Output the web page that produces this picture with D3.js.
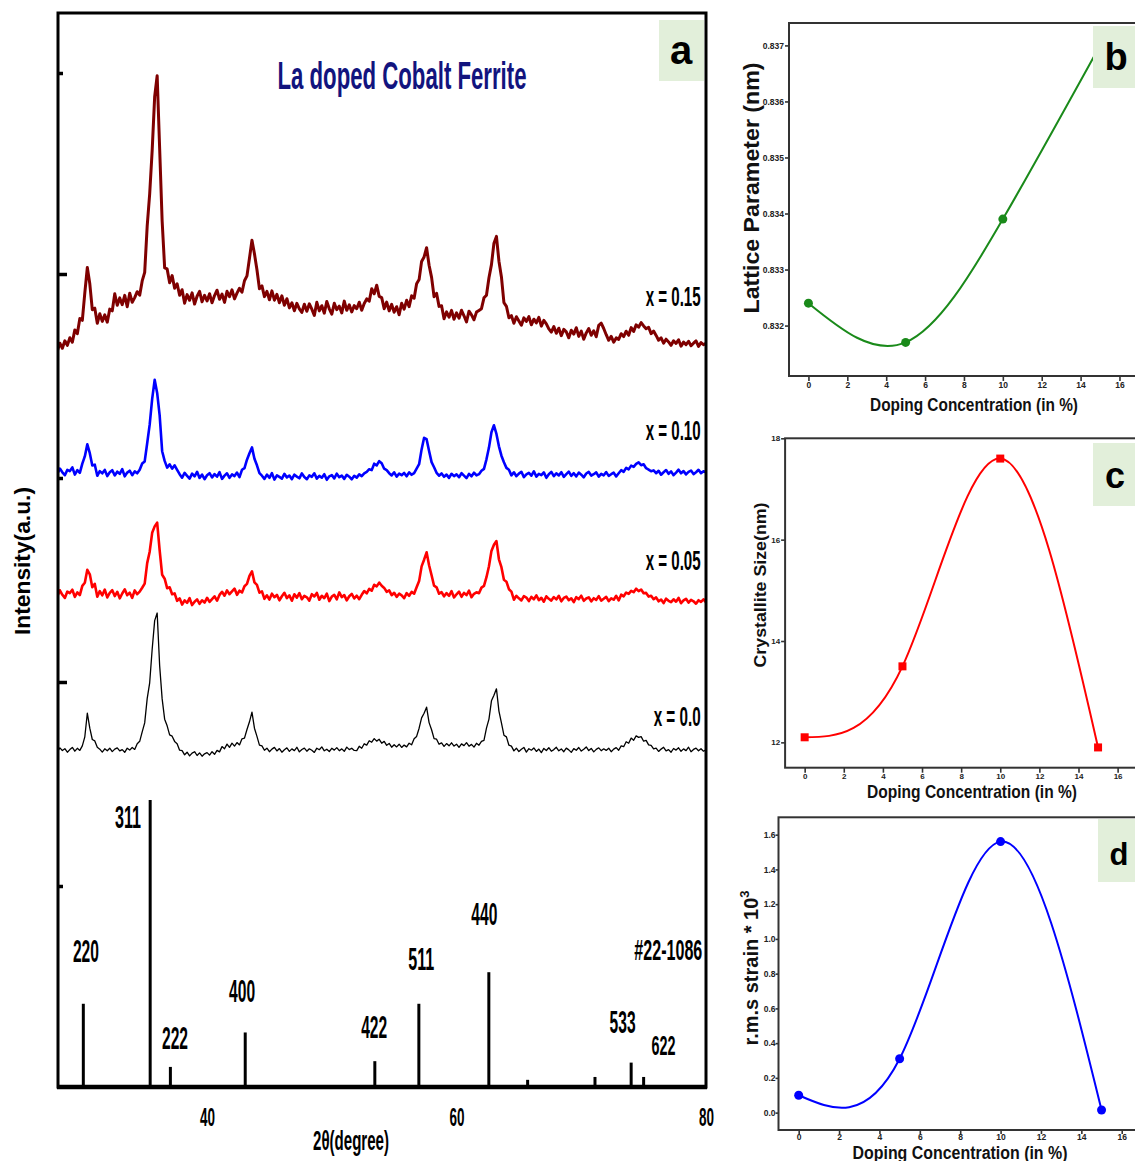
<!DOCTYPE html>
<html>
<head>
<meta charset="utf-8">
<script src="https://cdn.jsdelivr.net/npm/d3@7"></script>
<style>
  body { margin: 0; background: #fff; }
  svg { display: block; }
</style>
</head>
<body>
<div id="chart"></div>
<script>
// DATA
// ================================================================================== //

// XRD scans, 2θ from 28.0° to 80.0° in 0.2° steps (counts, before stacking offset)
const twoThetaStart = 28.0;
const twoThetaStep = 0.2;

const xrd_x000 = [
  82, 121, 95, 113, 78, 104, 126, 88, 117, 96, 141, 232, 468, 318, 205, 191, 127, 108, 79, 112,
  93, 118, 84, 109, 122, 91, 104, 77, 118, 99, 125, 106, 163, 187, 282, 371, 614, 772, 1108, 1394,
  1470, 942, 611, 408, 342, 251, 238, 186, 163, 98, 94, 52, 78, 41, 69, 83, 45, 71, 38, 62,
  74, 49, 83, 57, 96, 81, 134, 112, 159, 127, 168, 139, 174, 151, 212, 219, 305, 382, 478, 318,
  236, 149, 141, 97, 118, 83, 109, 126, 91, 114, 78, 103, 121, 86, 111, 94, 127, 81, 105, 119,
  88, 112, 97, 76, 118, 103, 131, 92, 108, 85, 117, 99, 124, 93, 111, 87, 129, 104, 118, 96,
  94, 137, 118, 162, 149, 193, 178, 214, 189, 207, 168, 186, 147, 166, 128, 153, 131, 158, 126, 149,
  131, 168, 152, 213, 236, 318, 421, 467, 528, 374, 302, 214, 208, 158, 171, 136, 164, 142, 172, 139,
  158, 127, 161, 144, 173, 138, 156, 129, 167, 148, 186, 197, 318, 409, 592, 648, 712, 489, 371, 248,
  231, 148, 139, 91, 118, 84, 107, 126, 79, 113, 98, 121, 86, 109, 74, 116, 95, 123, 88, 104,
  127, 92, 111, 83, 119, 101, 76, 114, 97, 125, 89, 108, 131, 94, 116, 81, 106, 122, 93, 112,
  96, 118, 83, 109, 124, 97, 141, 133, 182, 168, 219, 197, 241, 226, 234, 188, 196, 151, 147, 112,
  118, 86, 109, 127, 91, 104, 78, 115, 99, 122, 87, 111, 94, 128, 83, 106, 119, 92, 113, 88, 102
];

const xrd_x005 = [
  138, 197, 152, 121, 184, 169, 203, 131, 176, 149, 241, 272, 402, 357, 228, 261, 133, 189, 147, 204,
  126, 171, 198, 139, 182, 117, 165, 207, 148, 173, 121, 196, 158, 184, 223, 264, 469, 583, 772, 836,
  874, 597, 352, 313, 218, 227, 158, 166, 92, 117, 54, 96, 71, 118, 49, 83, 106, 62, 97, 74,
  122, 81, 109, 137, 93, 151, 182, 143, 196, 158, 187, 214, 152, 193, 176, 238, 261, 342, 387, 276,
  251, 173, 186, 112, 147, 104, 163, 128, 151, 97, 138, 172, 119, 146, 93, 157, 124, 169, 108, 141,
  127, 94, 158, 136, 171, 103, 142, 118, 163, 89, 134, 152, 107, 176, 128, 149, 96, 137, 161, 115,
  143, 108, 152, 189, 167, 211, 193, 252, 236, 274, 243, 221, 182, 196, 148, 172, 131, 163, 147, 118,
  169, 142, 181, 163, 228, 289, 436, 503, 577, 448, 347, 243, 227, 163, 178, 137, 169, 142, 188, 126,
  157, 184, 132, 171, 149, 193, 128, 162, 177, 168, 224, 241, 328, 437, 591, 652, 689, 507, 428, 302,
  283, 208, 184, 103, 142, 117, 96, 138, 124, 89, 131, 107, 146, 98, 122, 83, 137, 112, 94, 129,
  106, 142, 87, 121, 134, 98, 117, 79, 128, 109, 143, 92, 115, 127, 86, 118, 101, 139, 94, 112,
  131, 88, 117, 103, 142, 96, 153, 137, 174, 162, 191, 178, 213, 189, 205, 168, 171, 134, 142, 108,
  126, 87, 104, 69, 113, 92, 78, 107, 83, 121, 68, 96, 112, 74, 101, 87, 63, 98, 81, 107, 76
];

const xrd_x010 = [
  112, 164, 127, 98, 151, 139, 176, 104, 148, 121, 213, 286, 407, 318, 196, 203, 92, 138, 117, 151,
  89, 127, 148, 96, 133, 112, 158, 87, 124, 143, 98, 136, 117, 152, 214, 236, 418, 603, 862, 1052,
  921, 697, 338, 241, 174, 206, 163, 197, 152, 108, 73, 121, 92, 64, 113, 86, 132, 71, 104, 58,
  97, 118, 76, 109, 83, 128, 61, 94, 117, 72, 106, 89, 124, 78, 152, 169, 253, 318, 376, 262,
  197, 118, 93, 61, 104, 72, 118, 54, 97, 81, 63, 112, 76, 95, 58, 103, 84, 67, 116, 79,
  58, 96, 82, 117, 64, 91, 73, 108, 52, 87, 99, 66, 113, 78, 94, 61, 102, 83, 57, 92,
  74, 106, 89, 117, 132, 158, 149, 213, 196, 238, 217, 163, 148, 118, 96, 127, 84, 113, 98, 121,
  87, 126, 102, 119, 164, 208, 356, 472, 458, 341, 229, 178, 122, 93, 116, 82, 104, 71, 112, 89,
  106, 78, 118, 94, 69, 111, 87, 123, 96, 108, 142, 161, 257, 374, 528, 597, 511, 387, 293, 227,
  171, 152, 96, 127, 88, 114, 132, 79, 106, 121, 93, 137, 84, 112, 99, 126, 72, 108, 131, 89,
  117, 96, 128, 81, 109, 134, 92, 118, 86, 124, 103, 77, 115, 131, 94, 108, 126, 83, 112, 97,
  129, 91, 108, 123, 86, 117, 148, 132, 171, 156, 194, 182, 211, 226, 198, 207, 168, 154, 137, 146,
  118, 142, 103, 127, 149, 112, 136, 98, 124, 153, 117, 139, 106, 131, 144, 109, 128, 152, 119, 137, 126
];

const xrd_x015 = [
  43, 118, 67, 142, 96, 173, 128, 251, 213, 364, 347, 621, 874, 712, 453, 468, 317, 412, 336, 401,
  328, 459, 441, 612, 497, 571, 503, 596, 482, 618, 527, 574, 633, 598, 741, 826, 1289, 1612, 2047, 2584,
  2792, 2063, 1338, 872, 861, 723, 794, 668, 712, 597, 653, 518, 604, 547, 621, 509, 588, 636, 532, 597,
  541, 613, 522, 594, 648, 557, 609, 526, 637, 583, 652, 561, 619, 667, 628, 743, 791, 968, 1147, 1012,
  853, 662, 691, 584, 637, 552, 641, 548, 606, 523, 592, 497, 563, 471, 522, 443, 517, 462, 426, 508,
  437, 512, 458, 396, 527, 441, 493, 418, 536, 462, 409, 517, 453, 488, 421, 539, 447, 502, 431, 494,
  463, 528, 447, 516, 561, 538, 663, 612, 698, 587, 574, 463, 529, 441, 506, 428, 483, 402, 517, 458,
  547, 483, 592, 568, 712, 754, 936, 981, 1073, 897, 776, 583, 617, 486, 493, 362, 431, 378, 446, 357,
  421, 368, 447, 392, 331, 438, 401, 352, 429, 446, 463, 572, 598, 773, 904, 1118, 1186, 938, 781, 523,
  487, 372, 394, 318, 383, 341, 297, 372, 336, 384, 302, 358, 321, 376, 289, 347, 312, 261, 229, 284,
  217, 268, 193, 256, 231, 172, 248, 209, 273, 186, 239, 158, 221, 264, 197, 243, 182, 296, 318, 265,
  203, 147, 186, 128, 171, 156, 213, 184, 238, 197, 274, 236, 301, 278, 324, 291, 262, 277, 214, 239,
  196, 148, 172, 119, 158, 131, 97, 143, 116, 152, 88, 129, 104, 137, 92, 118, 141, 86, 124, 103, 117
];

const sampleNames = ["x = 0.0", "x = 0.05", "x = 0.10", "x = 0.15"];
const sampleOffsets = [3270, 4770, 6020, 7320];   // stacking offset of each scan
const intensityTicks = [2010, 4050, 6090, 8130, 10140];
const angleTicks = [40, 60, 80];

// JCPDS #22-1086 reference pattern
const refAngles = [30.08, 35.44, 37.06, 43.06, 53.45, 56.98, 62.59, 65.7, 71.1, 74.0, 75.0];
const refIntensity = [29, 100, 7, 19, 9, 29, 40, 2.5, 3.5, 8.5, 3.5];   // relative %
const refHkl = ["220", "311", "222", "400", "422", "511", "440", "", "", "533", "622"];
const refCard = "#22-1086";

// doping series (panels b, c, d)
const doping = [0, 5, 10, 15];
const latticeParameter = [0.8324, 0.8317, 0.8339, 0.8370];
const crystalliteSize = [12.1, 13.5, 17.6, 11.9];
const rmsStrain = [0.10, 0.31, 1.56, 0.015];
const dopingTicks = [0, 2, 4, 6, 8, 10, 12, 14, 16];
const latticeTicks = [0.832, 0.833, 0.834, 0.835, 0.836, 0.837];
const sizeTicks = [12, 14, 16, 18];
const strainTicks = [0, 0.2, 0.4, 0.6, 0.8, 1.0, 1.2, 1.4, 1.6];

// ================================================================================== //
// DATA END


const FONT = '"Liberation Sans", Arial, sans-serif';
const W = 1135, H = 1161;

const svg = d3.select("#chart")
    .append("svg")
    .attr("width", W)
    .attr("height", H)
    .attr("viewBox", [0, 0, W, H])
    .attr("font-family", FONT)
    .attr("font-weight", "bold");

// squeezed bold text (the figure's lettering is strongly condensed)
const squeezed = (g, txt, x, y, size, len, anchor) => g.append("text")
    .attr("x", x).attr("y", y)
    .attr("font-size", size)
    .attr("textLength", len)
    .attr("lengthAdjust", "spacingAndGlyphs")
    .attr("text-anchor", anchor || "middle")
    .text(txt);

const labelBox = (x, y, w, h, letter, lx, ly, size) => {
    svg.append("rect").attr("x", x).attr("y", y).attr("width", w).attr("height", h).attr("fill", "#e2efda");
    svg.append("text").attr("x", lx).attr("y", ly).attr("text-anchor", "middle")
        .attr("font-size", size).attr("fill", "#000").text(letter);
}


// Panel a : XRD patterns
// ================================================================================= //
const pa = { left: 58, right: 706, top: 13, bottom: 1087 };

const xA = d3.scaleLinear().domain([28.05, 80]).range([pa.left, pa.right]);
const yA = d3.scaleLinear().domain([0, 10740]).range([pa.bottom, pa.top]);

svg.append("clipPath").attr("id", "clipA")
    .append("rect")
    .attr("x", pa.left).attr("y", pa.top)
    .attr("width", pa.right - pa.left).attr("height", pa.bottom - pa.top);

const gA = svg.append("g");

const scans = [
    { values: xrd_x000, color: "#000000", width: 1.3 },
    { values: xrd_x005, color: "#ff0000", width: 2.6 },
    { values: xrd_x010, color: "#0000ff", width: 2.6 },
    { values: xrd_x015, color: "#7f0000", width: 3.0 },
];

const traceGroup = gA.append("g").attr("clip-path", "url(#clipA)");
scans.forEach((s, k) => {
    const line = d3.line()
        .x((d, i) => xA(twoThetaStart + i * twoThetaStep))
        .y(d => yA(d + sampleOffsets[k]));
    traceGroup.append("path")
        .datum(s.values)
        .attr("d", line)
        .attr("fill", "none")
        .attr("stroke", s.color)
        .attr("stroke-width", s.width)
        .attr("stroke-linejoin", "round");
});

// reference sticks
const countsPerPercent = 28.7;
gA.append("g")
    .selectAll("line")
    .data(refAngles)
    .join("line")
    .attr("x1", d => xA(d))
    .attr("x2", d => xA(d))
    .attr("y1", yA(0))
    .attr("y2", (d, i) => yA(refIntensity[i] * countsPerPercent))
    .attr("stroke", "#000")
    .attr("stroke-width", 3);

// hkl labels, placed in (2θ, counts)
const hklLabelAt = [
    [30.29, 1250], [33.66, 2590], [37.43, 380], [42.81, 850], [53.40, 490],
    [57.17, 1170], [62.23, 1620], null, null, [73.31, 540], [76.60, 320]
];
refHkl.forEach((t, i) => {
    if (!t) return;
    const p = hklLabelAt[i];
    squeezed(gA, t, xA(p[0]), yA(p[1]), i === 10 ? 27 : 31, i === 10 ? 24 : 26);
});
squeezed(gA, refCard, xA(76.98), yA(1270), 30, 68);

// sample labels
const sampleLabelAt = [[79.57, 3610], [79.57, 5170], [79.57, 6470], [79.57, 7810]];
sampleNames.forEach((t, k) => {
    squeezed(gA, t, xA(sampleLabelAt[k][0]), yA(sampleLabelAt[k][1]), 28, k === 0 ? 47 : 55, "end");
});

// title
squeezed(gA, "La doped Cobalt Ferrite", 402, 89, 38, 249).attr("fill", "#12147e");

// frame
gA.append("rect")
    .attr("x", pa.left).attr("y", pa.top)
    .attr("width", pa.right - pa.left).attr("height", pa.bottom - pa.top)
    .attr("fill", "none").attr("stroke", "#000").attr("stroke-width", 3);
gA.append("line")
    .attr("x1", pa.left - 1).attr("x2", pa.right + 1)
    .attr("y1", pa.bottom).attr("y2", pa.bottom)
    .attr("stroke", "#000").attr("stroke-width", 4.5);

// inner ticks on the intensity axis
const yAxisA = gA.append("g")
    .attr("transform", `translate(${pa.left},0)`)
    .call(d3.axisRight(yA).tickValues(intensityTicks).tickFormat(""));
yAxisA.select(".domain").remove();
yAxisA.selectAll(".tick text").remove();
yAxisA.selectAll(".tick line")
    .attr("x2", (d, i) => (i === 1 || i === 3) ? 9 : 5)
    .attr("stroke", "#000")
    .attr("stroke-width", 3.5);

// 2θ axis labels
const xAxisA = gA.append("g")
    .attr("transform", `translate(0,${pa.bottom})`)
    .call(d3.axisBottom(xA).tickValues(angleTicks).tickSize(0).tickFormat(d3.format("d")));
xAxisA.select(".domain").remove();
xAxisA.attr("font-family", FONT).attr("font-size", 25);
xAxisA.selectAll(".tick text")
    .attr("y", 39).attr("dy", 0)
    .attr("fill", "#000")
    .attr("textLength", 15)
    .attr("lengthAdjust", "spacingAndGlyphs");

squeezed(gA, "2θ(degree)", 351, 1150, 28, 76);

gA.append("text")
    .attr("transform", "translate(30,561) rotate(-90)")
    .attr("text-anchor", "middle")
    .attr("font-size", 22)
    .attr("textLength", 148)
    .attr("lengthAdjust", "spacingAndGlyphs")
    .text("Intensity(a.u.)");

labelBox(659, 20, 45, 61, "a", 681, 64, 40);


// Panels b, c, d : doping series
// ================================================================================= //
const smallPanel = (p) => {
    const x = d3.scaleLinear().domain([-1, 17]).range([p.left, p.left + 18 * p.unit]);
    const y = d3.scaleLinear().domain(p.yDomain).range([p.bottom, p.top]);
    const g = svg.append("g");

    const ax = g.append("g")
        .attr("transform", `translate(0,${p.bottom})`)
        .call(d3.axisBottom(x).tickValues(dopingTicks).tickSize(p.xTick).tickPadding(p.xPad).tickFormat(d3.format("d")));
    const ay = g.append("g")
        .attr("transform", `translate(${p.left},0)`)
        .call(d3.axisLeft(y).tickValues(p.yTicks).tickSize(p.yTick).tickPadding(p.yPad).tickFormat(d3.format(p.fmt)));
    [ax, ay].forEach(a => {
        a.select(".domain").remove();
        a.attr("font-family", FONT).attr("font-size", p.tickFont);
        a.selectAll(".tick line").attr("stroke", "#333").attr("stroke-width", 1.6);
        a.selectAll(".tick text").attr("fill", "#222");
    });

    g.append("rect")
        .attr("x", p.left).attr("y", p.top)
        .attr("width", x(17) - p.left).attr("height", p.bottom - p.top)
        .attr("fill", "none").attr("stroke", "#333").attr("stroke-width", 2);

    const line = d3.line()
        .curve(d3.curveNatural)
        .x((d, i) => x(doping[i]))
        .y(d => y(d));
    g.append("path")
        .datum(p.values)
        .attr("d", line)
        .attr("fill", "none")
        .attr("stroke", p.color)
        .attr("stroke-width", 2);

    if (p.marker === "square") {
        g.append("g").selectAll("rect").data(p.values).join("rect")
            .attr("x", (d, i) => x(doping[i]) - 4)
            .attr("y", d => y(d) - 4)
            .attr("width", 8).attr("height", 8)
            .attr("fill", p.color);
    } else {
        g.append("g").selectAll("circle").data(p.values).join("circle")
            .attr("cx", (d, i) => x(doping[i]))
            .attr("cy", d => y(d))
            .attr("r", 4.5)
            .attr("fill", p.color);
    }

    g.append("text")
        .attr("x", p.xlab[0]).attr("y", p.xlab[1])
        .attr("text-anchor", "middle")
        .attr("font-size", p.xlab[2])
        .attr("textLength", p.xlab[3])
        .attr("lengthAdjust", "spacingAndGlyphs")
        .attr("fill", "#111")
        .text("Doping Concentration (in %)");

    const yl = g.append("text")
        .attr("transform", `translate(${p.ylab[0]},${p.ylab[1]}) rotate(-90)`)
        .attr("text-anchor", "middle")
        .attr("font-size", p.ylab[2])
        .attr("fill", "#111");
    if (p.ylab[3]) {
        yl.attr("textLength", p.ylab[3]).attr("lengthAdjust", "spacingAndGlyphs").text(p.title);
    } else {
        yl.append("tspan").text(p.title);
        yl.append("tspan").attr("dy", -9).attr("font-size", 13).text(p.sup);
    }

    labelBox(...p.box);
}

smallPanel({
    left: 789, top: 23, bottom: 376, unit: 19.44, xTick: 5, xPad: 1,
    yDomain: [0.8311, 0.8374], yTicks: latticeTicks, fmt: ".3f", yTick: 4, yPad: 1, tickFont: 8.5,
    values: latticeParameter, color: "#1a8a1a", marker: "circle",
    title: "Lattice Parameter (nm)", ylab: [759, 188, 22, 251], xlab: [974, 411, 19, 208],
    box: [1093, 26, 45, 62, "b", 1116, 70, 38]
});

smallPanel({
    left: 785.1, top: 438.3, bottom: 767.7, unit: 19.56, xTick: 5, xPad: 1,
    yDomain: [11.5, 18], yTicks: sizeTicks, fmt: "d", yTick: 4, yPad: 1, tickFont: 8,
    values: crystalliteSize, color: "#ff0000", marker: "square",
    title: "Crystallite Size(nm)", ylab: [766, 585, 16, 165], xlab: [972, 798, 19, 210],
    box: [1093, 443, 45, 63, "c", 1115, 488, 36]
});

smallPanel({
    left: 778.5, top: 817.3, bottom: 1130, unit: 20.19, xTick: 4, xPad: 0,
    yDomain: [-0.1, 1.7], yTicks: strainTicks, fmt: ".1f", yTick: 3, yPad: 0, tickFont: 8.5,
    values: rmsStrain, color: "#0000ff", marker: "circle",
    title: "r.m.s strain * 10", sup: "3", ylab: [758, 968, 20, 0], xlab: [960, 1159, 18, 215],
    box: [1098, 819, 40, 63, "d", 1119, 865, 31]
});
</script>
</body>
</html>
